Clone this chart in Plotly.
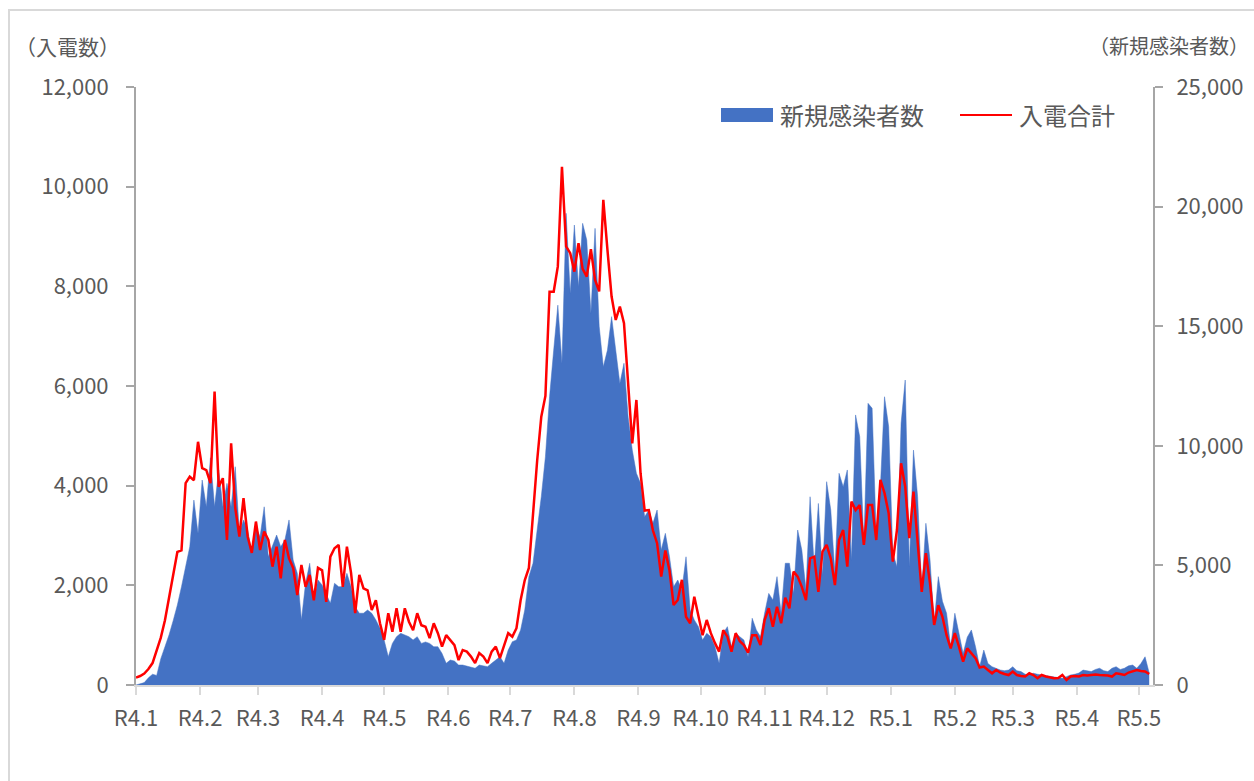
import pandas as pd
import plotly.graph_objects as go

# Daily series sampled every 2 days from 2022-01-01
START = "2022-01-01"

# 入電合計 (left axis)
calls = [
    150, 180, 230, 320, 440, 700, 950, 1300, 1750, 2250,
    2670, 2700, 4050, 4180, 4110, 4880, 4350, 4310, 4050, 5890,
    3980, 4150, 2910, 4850, 3550, 2980, 3750, 2980, 2650, 3280,
    2710, 3080, 2910, 2375, 2775, 2140, 2910, 2540, 2350, 1805,
    2410, 1970, 2210, 1700, 2350, 2300, 1670, 2575, 2745, 2810,
    1970, 2775, 2250, 1440, 2210, 1940, 1900, 1505, 1700, 1240,
    905, 1440, 1070, 1540, 1070, 1540, 1270, 1100, 1440, 1200,
    1170, 940, 1240, 1040, 770, 1000, 900, 800, 500, 700,
    670, 570, 440, 640, 570, 440, 670, 770, 540, 800,
    1040, 970, 1140, 1700, 2100, 2350, 3445, 4500, 5385, 5800,
    7890, 7890, 8400, 10400, 8800, 8665, 8295, 8865, 8350, 8195,
    8745, 8130, 7900, 9735, 8730, 7795, 7325, 7595, 7260, 6055,
    4850, 5720, 4250, 3500, 3510, 3100, 2845, 2175, 2700, 2300,
    1605, 1705, 2110, 1370, 1240, 1770, 1370, 1000, 1305, 1040,
    840, 670, 1100, 970, 670, 1040, 880, 800, 650, 1000,
    1000, 800, 1305, 1540, 1170, 1570, 1240, 1750, 1540, 2275,
    2175, 1970, 1705, 2540, 2575, 1870, 2675, 2810, 2540, 2005,
    2910, 3110, 2375, 3680, 3510, 3610, 2810, 3610, 3610, 2910,
    4115, 3850, 3445, 2475, 3110, 4450, 3980, 2945, 3880, 2775,
    1870, 2645, 2040, 1205, 1600, 1370, 1000, 735, 1040, 770,
    470, 735, 640, 540, 350, 370, 300, 235, 300, 250,
    220, 200, 270, 200, 180, 170, 235, 200, 135, 200,
    170, 150, 135, 140, 200, 100, 170, 180, 170, 200,
    190, 200, 210, 200, 200, 190, 170, 235, 220, 200,
    250, 270, 300, 280, 270, 220,
]

# 新規感染者数 (right axis)
cases = [
    0, 50, 100, 300, 450, 400, 1100, 1600, 2100, 2700,
    3345, 4110, 5000, 5780, 7730, 6340, 8570, 7450, 9500, 7450,
    8990, 7450, 8430, 7450, 9125, 6340, 6900, 6480, 5505, 6620,
    6200, 7450, 5360, 5780, 6270, 5780, 6060, 6900, 5225, 4670,
    2720, 4250, 5090, 3555, 4390, 4180, 3830, 3415, 4250, 4110,
    4110, 4670, 4110, 3270, 3000, 3000, 3135, 3000, 2720, 2370,
    1880, 1180, 1740, 2020, 2160, 2100, 2020, 1880, 2020, 1740,
    1800, 1740, 1600, 1600, 1320, 905, 1045, 1000, 835, 835,
    800, 765, 700, 835, 800, 765, 905, 1045, 1180, 905,
    1460, 1810, 1880, 2300, 3135, 4530, 5090, 6480, 7870, 9540,
    12050, 14000, 15880, 13450, 19720, 16370, 19230, 16650, 19300, 18600,
    15540, 19090, 15000, 13300, 14000, 15400, 13870, 12600, 13450, 11200,
    9820, 8850, 8430, 7035, 7315, 6760, 7315, 5640, 6340, 5360,
    4110, 4390, 3970, 5360, 3135, 2720, 2440, 1880, 2160, 2020,
    1600, 905, 2160, 2440, 1600, 2160, 2020, 1880, 1180, 2790,
    2300, 2020, 3000, 3830, 3555, 4530, 3000, 5090, 5090, 3830,
    6480, 5640, 3970, 7870, 4940, 7590, 4600, 8500, 7315, 4670,
    8850, 8290, 8990, 5225, 11290, 10380, 5920, 11775, 11570, 6200,
    8290, 12050, 10800, 5505, 4945, 10940, 12750, 4945, 9820, 7870,
    3970, 6760, 5225, 2580, 4530, 3500, 3000, 1600, 3000, 2160,
    1320, 2000, 2300, 1600, 765, 1460, 900, 765, 700, 625,
    600, 625, 765, 600, 560, 450, 420, 490, 450, 420,
    400, 380, 350, 320, 280, 350, 420, 450, 500, 625,
    580, 560, 650, 700, 600, 560, 700, 765, 650, 700,
    800, 835, 700, 900, 1180, 500,
]

dates = pd.date_range(START, periods=len(calls), freq="2D")

month_ticks = pd.date_range("2022-01-01", "2023-05-01", freq="MS")
month_labels = ["R4.1", "R4.2", "R4.3", "R4.4", "R4.5", "R4.6", "R4.7", "R4.8",
                "R4.9", "R4.10", "R4.11", "R4.12", "R5.1", "R5.2", "R5.3",
                "R5.4", "R5.5"]

W, H = 1254, 781
ML, MR, MT, MB = 136, 101, 87, 96
PW, PH = W - ML - MR, H - MT - MB


def px(x):
    return (x - ML) / PW


def py(y):
    return (H - MB - y) / PH


FONT = "Noto Sans CJK JP"
TXT = "#595959"
AX = "#A6A6A6"
LIGHT = "#D9D9D9"
BLUE = "#4472C4"
RED = "#FF0000"

fig = go.Figure()
# area on the primary (right-hand) axis so the line on the overlay sits on top
fig.add_trace(go.Scatter(
    x=dates, y=cases, name="新規感染者数", yaxis="y", mode="lines",
    fill="tozeroy", fillcolor=BLUE, line=dict(color=BLUE, width=0.5),
    showlegend=False,
))
fig.add_trace(go.Scatter(
    x=dates, y=calls, name="入電合計", yaxis="y2", mode="lines",
    line=dict(color=RED, width=2.5), showlegend=False,
))

tickfont = dict(family=FONT, size=22, color=TXT)

fig.update_layout(
    width=W, height=H,
    margin=dict(l=ML, r=MR, t=MT, b=MB, pad=0, autoexpand=False),
    paper_bgcolor="white", plot_bgcolor="white",
    font=dict(family=FONT, color=TXT),
    xaxis=dict(
        type="date", range=[START, "2023-05-07T20:00"],
        tickvals=month_ticks, ticktext=month_labels,
        ticks="outside", ticklen=8, tickwidth=2, tickcolor=LIGHT,
        showline=True, linecolor=LIGHT, linewidth=2,
        showgrid=False, zeroline=False, tickfont=tickfont,
        ticklabelstandoff=5, automargin=False,
    ),
    yaxis=dict(
        range=[0, 25000], dtick=5000, tickformat=",",
        side="right", anchor="x",
        ticks="outside", ticklen=8, tickwidth=2, tickcolor=AX,
        showline=True, linecolor=AX, linewidth=2,
        showgrid=False, zeroline=False, tickfont=tickfont,
        ticklabelstandoff=9, automargin=False,
    ),
    yaxis2=dict(
        range=[0, 12000], dtick=2000, tickformat=",",
        overlaying="y", side="left", anchor="x",
        ticks="outside", ticklen=8, tickwidth=2, tickcolor=AX,
        showline=True, linecolor=AX, linewidth=2,
        showgrid=False, zeroline=False, tickfont=tickfont,
        ticklabelstandoff=13, automargin=False,
    ),
    # inner halves of the crossing tick marks
    yaxis3=dict(
        range=[0, 12000], dtick=2000, overlaying="y", side="left", anchor="x",
        ticks="inside", ticklen=7, tickwidth=2, tickcolor=AX,
        showticklabels=False, showline=False, showgrid=False, zeroline=False,
        automargin=False,
    ),
    yaxis4=dict(
        range=[0, 25000], dtick=5000, overlaying="y", side="right", anchor="x",
        ticks="inside", ticklen=7, tickwidth=2, tickcolor=AX,
        showticklabels=False, showline=False, showgrid=False, zeroline=False,
        automargin=False,
    ),
    shapes=[
        # chart frame
        dict(type="rect", xref="paper", yref="paper",
             x0=px(9), x1=px(1280), y0=py(800), y1=py(10),
             line=dict(color=LIGHT, width=2), fillcolor="rgba(0,0,0,0)",
             layer="below"),
        # legend keys
        dict(type="rect", xref="paper", yref="paper",
             x0=px(721), x1=px(773), y0=py(122), y1=py(108),
             line=dict(width=0), fillcolor=BLUE),
        dict(type="line", xref="paper", yref="paper",
             x0=px(960), x1=px(1012), y0=py(115), y1=py(115),
             line=dict(color=RED, width=2)),
    ],
    annotations=[
        dict(text="（入電数）", xref="paper", yref="paper",
             x=px(67), y=py(46), xanchor="center", yanchor="middle",
             showarrow=False, font=dict(family=FONT, size=21, color=TXT)),
        dict(text="（新規感染者数）", xref="paper", yref="paper",
             x=px(1169), y=py(45), xanchor="center", yanchor="middle",
             showarrow=False, font=dict(family=FONT, size=20, color=TXT)),
        dict(text="新規感染者数", xref="paper", yref="paper",
             x=px(778), y=py(115), xanchor="left", yanchor="middle",
             showarrow=False, font=dict(family=FONT, size=24, color=TXT)),
        dict(text="入電合計", xref="paper", yref="paper",
             x=px(1017), y=py(115), xanchor="left", yanchor="middle",
             showarrow=False, font=dict(family=FONT, size=24, color=TXT)),
    ],
)

fig.write_html("out.html")
